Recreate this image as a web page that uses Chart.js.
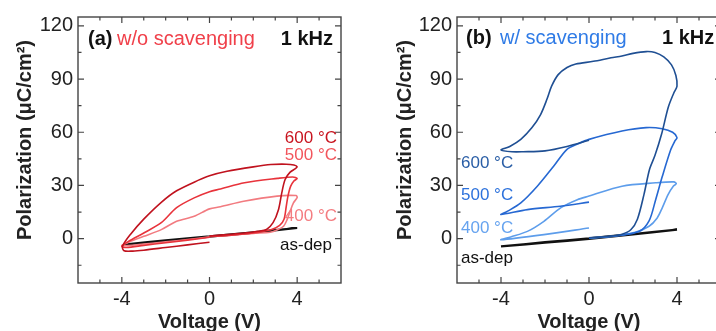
<!DOCTYPE html>
<html>
<head>
<meta charset="utf-8">
<script src="https://cdn.jsdelivr.net/npm/chart.js@4.4.0/dist/chart.umd.min.js"></script>
<style>
    body { margin: 0; background: #fff; overflow: hidden; }
    #wrap { position: relative; width: 716px; height: 331px; overflow: hidden; background: #fff; }
    #chartA { position: absolute; left: 0; top: 0; }
    #chartB { position: absolute; left: 358px; top: 0; }
</style>
</head>
<body>
<div id="wrap">
    <canvas id="chartA" width="358" height="345"></canvas>
    <canvas id="chartB" width="380" height="345"></canvas>
</div>
<script>
// axis ticks
const xTicks = [-4, 0, 4];
const yTicks = [0, 30, 60, 90, 120];
const xMinor = [-5, -3, -2, -1, 1, 2, 3, 5];
const yMinor = [-15, 15, 45, 75, 105];

// (a) w/o scavenging  -- voltage (V) / polarization (uC/cm2)
const aV600 = [0, 1, 1.6, 2.2, 2.6, 2.9, 3.15, 3.3, 3.45, 3.68, 3.92, 4.0, 3.85, 3.5, 2.8, 2.0, 0.8, 0, -0.5, -1.5, -2.2, -3.0, -3.6, -3.97, -3.9, -3.5, -3, -2, -1, 0];
const aP600 = [1.5, 2.5, 3.2, 4.2, 5.2, 9, 16.5, 26, 33.4, 37.5, 39.5, 40.5, 41.5, 42, 41.8, 40.5, 38, 35.5, 33, 27, 20.5, 11, 2.5, -4.3, -6.8, -7, -6.5, -5, -3.5, -2];
const aV500 = [0, 1, 2, 2.8, 3.2, 3.4, 3.5, 3.58, 3.7, 3.85, 4.0, 3.8, 3.1, 1.6, 0.5, 0, -0.7, -1.5, -2.2, -3, -3.7, -4, -3.8, -3, -2, -1, 0];
const aP500 = [1.2, 2, 3.2, 5, 7.5, 11, 18, 24, 29.5, 32.5, 34, 34.8, 34, 31.5, 28, 26.5, 23, 17.5, 9, 3.2, -1.5, -4.3, -5, -3.8, -2.3, -0.8, 0.8];
const aV400 = [0, 1, 2, 2.77, 3.1, 3.38, 3.55, 3.68, 3.83, 4.0, 3.95, 3.08, 1.56, 0.5, 0, -0.7, -1.5, -2.2, -3, -3.6, -4, -3, -2, -1, 0];
const aP400 = [1.2, 2, 3, 3.6, 5, 7, 11, 15.5, 20.2, 23.2, 24.3, 24, 21.1, 18, 16.8, 12.6, 9.8, 5.1, 1.3, -1.5, -4, -3, -1.8, -0.5, 1];
const aVdep = [0, 2, 4, 2, 0, -2, -3.9, -2, 0];
const aPdep = [1.3, 3.6, 6, 3.4, 1.1, -1.1, -3.4, -0.9, 1.3];

// (b) w/ scavenging
const bV600 = [0, 1, 1.5, 1.9, 2.2, 2.5, 2.75, 3.0, 3.3, 3.6, 3.85, 4.0, 3.95, 3.75, 3.4, 3.0, 2.6, 2.0, 1.5, 1.0, 0.2, -0.6, -1.0, -1.4, -1.7, -1.9, -2.2, -2.6, -3.1, -3.6, -4, -3.5, -3, -2, -1, 0];
const bP600 = [0.5, 1.5, 2.5, 5, 11, 25, 39, 47, 59, 74, 82, 86, 92, 98, 102.5, 105, 105.5, 104.5, 103, 102, 100, 98.5, 96.5, 92.5, 86, 79, 70, 62.5, 56, 52, 50, 49, 49, 49.5, 52, 55.5];
const bV500 = [0, 1.2, 2.27, 2.73, 3.03, 3.33, 3.71, 3.9, 4.0, 3.8, 3.33, 2.6, 1.5, 0, -0.5, -1.0, -1.6, -2.35, -3.1, -3.7, -4.0, -2.8, -1.3, 0];
const bP500 = [0.3, 1.5, 4, 10, 22, 35, 50, 55, 57, 60, 62, 62.6, 60.7, 56, 53.5, 50.4, 41, 29.6, 20.2, 15.5, 13.6, 16.4, 18.3, 20.6];
const bV400 = [0, 1, 2.1, 2.73, 3.1, 3.33, 3.6, 3.83, 3.97, 3.86, 3.03, 1.5, 0, -0.53, -1.29, -2.05, -2.8, -3.56, -4, -2.05, 0];
const bP400 = [0.3, 1.2, 3.6, 7, 11.7, 17.4, 25, 29.6, 31, 32, 31.5, 29.6, 24, 22, 17.4, 9.8, 4.1, 1, -0.6, 2.3, 6];
const bVdep = [0, 2, 4, 2, 0, -2, -4, -2, 0];
const bPdep = [0.2, 2.6, 5.1, 2.4, -0.1, -2.3, -4.4, -2.0, 0.2];

const FONT = "'Liberation Sans', Arial, sans-serif";

function pts(v, p) {
    return v.map((x, i) => ({x: x, y: p[i]}));
}

// frame, inward ticks, y title and text notes
const framePlugin = {
    id: 'frame',
    afterDraw(chart, args, opts) {
        const ctx = chart.ctx;
        const a = chart.chartArea;
        const sx = chart.scales.x, sy = chart.scales.y;
        ctx.save();
        ctx.strokeStyle = '#444';
        ctx.lineWidth = 1.4;
        ctx.strokeRect(a.left, a.top, a.right - a.left, a.bottom - a.top);

        ctx.lineWidth = 1.2;
        ctx.beginPath();
        xTicks.concat(xMinor).forEach(v => {
            const len = xTicks.includes(v) ? 6 : 3.5;
            const px = sx.getPixelForValue(v);
            ctx.moveTo(px, a.bottom); ctx.lineTo(px, a.bottom - len);
            ctx.moveTo(px, a.top); ctx.lineTo(px, a.top + len);
        });
        yTicks.concat(yMinor).forEach(v => {
            const len = yTicks.includes(v) ? 6 : 3.5;
            const py = sy.getPixelForValue(v);
            ctx.moveTo(a.left, py); ctx.lineTo(a.left + len, py);
            ctx.moveTo(a.right, py); ctx.lineTo(a.right - len, py);
        });
        ctx.stroke();

        // y axis title
        ctx.translate(opts.titleX, 140);
        ctx.rotate(-Math.PI / 2);
        ctx.fillStyle = '#222';
        ctx.font = 'bold 20px ' + FONT;
        ctx.textAlign = 'center';
        ctx.textBaseline = 'middle';
        ctx.fillText('Polarization (\u03bcC/cm\u00b2)', 0, 0);
        ctx.restore();

        ctx.save();
        ctx.textBaseline = 'middle';
        opts.notes.forEach(n => {
            ctx.font = (n.bold ? 'bold ' : '') + n.size + 'px ' + FONT;
            ctx.fillStyle = n.color;
            ctx.textAlign = n.align || 'left';
            ctx.fillText(n.text, n.x, n.y);
        });
        ctx.restore();
    }
};

function get_chart(id, series, colors, yWidth, titleX, notes) {
    const ctx = document.getElementById(id);
    var mychart = new Chart(ctx, {
        type: 'scatter',
        data: {
            datasets: series.map((s, i) => ({
                label: s.label,
                data: s.data,
                showLine: true,
                borderColor: colors[i],
                backgroundColor: colors[i],
                borderWidth: s.label === 'as-dep' ? 2.2 : 1.6,
                pointRadius: 0,
                tension: 0.3,
                fill: false
            }))
        },
        options: {
            responsive: false,
            animation: false,
            layout: { padding: { top: 17, right: 17, left: 0, bottom: 0 } },
            plugins: {
                legend: { display: false },
                tooltip: { enabled: false },
                frame: { titleX: titleX, notes: notes }
            },
            scales: {
                x: {
                    type: 'linear',
                    min: -6,
                    max: 6,
                    afterBuildTicks: s => { s.ticks = xTicks.map(v => ({value: v})); },
                    afterFit: s => { s.height = 62; },
                    grid: { display: false, drawTicks: false },
                    border: { display: false },
                    ticks: { color: '#222', font: { size: 20, family: FONT }, padding: 4, maxRotation: 0, autoSkip: false },
                    title: { display: true, text: 'Voltage (V)', color: '#222', font: { size: 20, weight: 'bold', family: FONT }, padding: { top: 0, bottom: 11 } }
                },
                y: {
                    type: 'linear',
                    min: -25,
                    max: 125,
                    afterBuildTicks: s => { s.ticks = yTicks.map(v => ({value: v})); },
                    afterFit: s => { s.width = yWidth; },
                    grid: { display: false, drawTicks: false },
                    border: { display: false },
                    ticks: { color: '#222', font: { size: 20, family: FONT }, padding: 5, autoSkip: false }
                }
            }
        },
        plugins: [framePlugin]
    });
    return mychart;
}

get_chart('chartA',
    [
        {label: '600 °C', data: pts(aV600, aP600)},
        {label: '500 °C', data: pts(aV500, aP500)},
        {label: '400 °C', data: pts(aV400, aP400)},
        {label: 'as-dep', data: pts(aVdep, aPdep)}
    ],
    ['#c0121e', '#e8333b', '#f27b80', '#111'],
    78, 25,
    [
        {text: '(a)', x: 88, y: 39, color: '#111', bold: true, size: 20},
        {text: 'w/o scavenging', x: 117, y: 39, color: '#f0404a', size: 20},
        {text: '1 kHz', x: 333, y: 39, color: '#111', bold: true, size: 20, align: 'right'},
        {text: '600 °C', x: 337, y: 138, color: '#c8141f', size: 17, align: 'right'},
        {text: '500 °C', x: 337, y: 155, color: '#f2555c', size: 17, align: 'right'},
        {text: '400 °C', x: 337, y: 216, color: '#f47c80', size: 17, align: 'right'},
        {text: 'as-dep', x: 332, y: 245, color: '#111', size: 17, align: 'right'}
    ]);

get_chart('chartB',
    [
        {label: '600 °C', data: pts(bV600, bP600)},
        {label: '500 °C', data: pts(bV500, bP500)},
        {label: '400 °C', data: pts(bV400, bP400)},
        {label: 'as-dep', data: pts(bVdep, bPdep)}
    ],
    ['#1f4f93', '#2668d2', '#5d9deb', '#111'],
    99, 47,
    [
        {text: '(b)', x: 108, y: 38, color: '#111', bold: true, size: 20},
        {text: 'w/ scavenging', x: 142, y: 38, color: '#2f7be6', size: 20},
        {text: '1 kHz', x: 304, y: 38, color: '#111', bold: true, size: 20},
        {text: '600 °C', x: 103, y: 163, color: '#2a5ea6', size: 17},
        {text: '500 °C', x: 103, y: 195, color: '#2d72dc', size: 17},
        {text: '400 °C', x: 103, y: 228, color: '#66a3ef', size: 17},
        {text: 'as-dep', x: 103, y: 258, color: '#111', size: 17}
    ]);
</script>
</body>
</html>
